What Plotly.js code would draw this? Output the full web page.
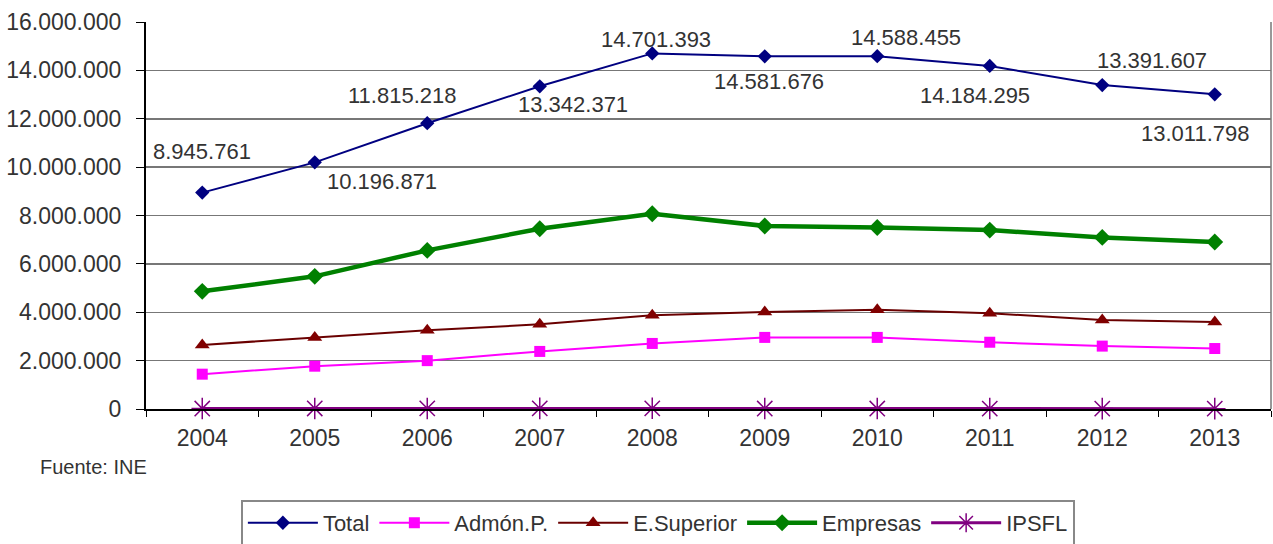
<!DOCTYPE html>
<html>
<head>
<meta charset="utf-8">
<script src="https://cdn.plot.ly/plotly-3.0.1.min.js"></script>
<style>html,body{margin:0;padding:0;background:#fff;}#chart{width:1273px;height:544px;}</style>
</head>
<body>
<div id="chart"></div>
<script>
// ---- data ----
var years = ['2004','2005','2006','2007','2008','2009','2010','2011','2012','2013'];
var total = [8945761, 10196871, 11815218, 13342371, 14701393, 14581676, 14588455, 14184295, 13391607, 13011798];
var admonP = [1440000, 1770000, 2000000, 2380000, 2710000, 2960000, 2960000, 2760000, 2600000, 2500000];
var eSuperior = [2650000, 2960000, 3260000, 3500000, 3880000, 4010000, 4100000, 3960000, 3680000, 3600000];
var empresas = [4865000, 5485000, 6558000, 7454000, 8074000, 7568000, 7506000, 7396000, 7094000, 6907000];
var ipsfl = [20000, 22000, 23000, 27000, 28000, 20000, 20000, 18000, 17000, 15000];
var yTicks = [0, 2000000, 4000000, 6000000, 8000000, 10000000, 12000000, 14000000, 16000000];
var sourceNote = 'Fuente: INE';

// ---- label placement (style only) ----
var labelDx = [0, 67, -25, 33, 4, 4, 29, -15, 50, -20];
var labelDy = [41, -19, 28, -18, 14, -25, 19, -30, 25, -39];

function fmt(v){ return String(v).replace(/\B(?=(\d{3})+(?!\d))/g, '.'); }

var font = 'Liberation Sans, Arial, sans-serif';

var traces = [
  {name:'Total', x:years, y:total, type:'scatter', mode:'lines+markers',
   line:{color:'#000080', width:2}, marker:{symbol:'diamond', size:11, color:'#000080'}},
  {name:'Admón.P.', x:years, y:admonP, type:'scatter', mode:'lines+markers',
   line:{color:'#ff00ff', width:2}, marker:{symbol:'square', size:11, color:'#ff00ff'}},
  {name:'E.Superior', x:years, y:eSuperior, type:'scatter', mode:'lines+markers',
   line:{color:'#6a0000', width:2}, marker:{symbol:'triangle-up', size:13, color:'#800000'}},
  {name:'Empresas', x:years, y:empresas, type:'scatter', mode:'lines+markers',
   line:{color:'#008000', width:4.5}, marker:{symbol:'diamond', size:13, color:'#008000'}},
  {name:'IPSFL', x:years, y:ipsfl, type:'scatter', mode:'lines+markers', cliponaxis:false,
   line:{color:'#800080', width:3}, marker:{symbol:'asterisk-open', size:18, color:'#800080', line:{color:'#9a30b0', width:1.5}}}
];

var annotations = years.map(function(yr, i){
  return {x: i, y: total[i], xref:'x', yref:'y', text: fmt(total[i]), showarrow:false,
          xshift: labelDx[i], yshift: labelDy[i], font:{family:font, size:22, color:'#333'}};
});
annotations.push({xref:'paper', yref:'paper', x:-0.096, y:-0.149, xanchor:'left', yanchor:'middle',
  text: sourceNote, showarrow:false, font:{family:font, size:20, color:'#333'}});

var layout = {
  width:1273, height:544,
  margin:{l:146, r:2, t:22, b:135, autoexpand:false},
  paper_bgcolor:'#fff', plot_bgcolor:'#fff',
  separators: ',.',
  font:{family:font, size:22, color:'#333'},
  showlegend:true,
  legend:{orientation:'h', x:0.455, xanchor:'center', y:-0.235, yanchor:'top',
          bordercolor:'#888', borderwidth:2, font:{family:font, size:22, color:'#333'},
          itemwidth:70, traceorder:'normal'},
  xaxis:{type:'category', range:[-0.5, 9.5], showgrid:false, showline:true, linecolor:'#000', linewidth:2,
         ticks:'outside', tickson:'boundaries', ticklen:6, tickcolor:'#000', ticklabelstandoff:7,
         tickfont:{family:font, size:23, color:'#333'}, zeroline:false, fixedrange:true},
  yaxis:{range:[0, 16000000], tickvals:yTicks, tickformat:',d', showgrid:true, gridcolor:'#777', gridwidth:1.5,
         showline:true, linecolor:'#000', linewidth:2, ticks:'outside', ticklen:8, tickcolor:'#000',
         ticklabelstandoff:10, tickfont:{family:font, size:23, color:'#333'}, zeroline:false, fixedrange:true},
  shapes:[{type:'line', xref:'paper', yref:'paper', x0:1, x1:1, y0:0, y1:1, line:{color:'#777', width:1.5}}],
  annotations: annotations
};

Plotly.newPlot('chart', traces, layout, {displayModeBar:false, staticPlot:true});
</script>
</body>
</html>
